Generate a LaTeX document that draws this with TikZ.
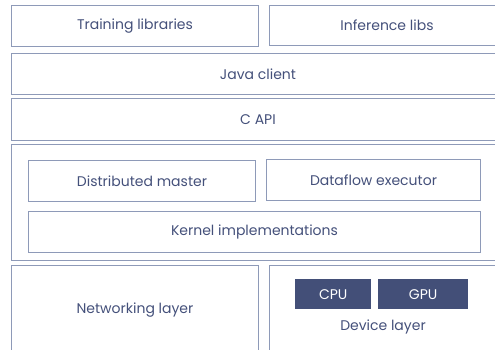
\documentclass[tikz,border=0pt]{standalone}
\usepackage{fontspec}
\setmainfont{Poppins}

\definecolor{layertext}{HTML}{44507A}
\definecolor{layerline}{HTML}{8E9AB8}
\definecolor{chipfill}{HTML}{434F78}

\tikzset{
  layer/.style={draw=layerline, line width=1pt, inner sep=0pt, anchor=north west,
    text=layertext, font=\fontsize{14}{16}\selectfont},
  chip/.style={fill=chipfill, inner sep=0pt, anchor=north west,
    text=white, font=\fontsize{14}{16}\selectfont},
}

\begin{document}
\begin{tikzpicture}[x=1pt, y=-1pt]
        \useasboundingbox (0,0) rectangle (495,350);
        \clip (0,0) rectangle (495,350);

        % Top row: libraries
        \node[layer, minimum width=247pt, minimum height=41pt] (train) at (11,5) {Training libraries};
        \node[layer, minimum width=235pt, minimum height=40pt] (infer) at (269,5) {Inference libs};

        % Client and API
        \node[layer, minimum width=493pt, minimum height=41pt] (java) at (11,53) {Java client};
        \node[layer, minimum width=493pt, minimum height=42pt] (capi) at (11,98) {C API};

        % Core runtime
        \node[layer, minimum width=493pt, minimum height=116pt] (core) at (11,144) {};
        \node[layer, minimum width=227pt, minimum height=41pt] (master) at (28,160) {Distributed master};
        \node[layer, minimum width=214pt, minimum height=41pt] (exec) at (266,159) {Dataflow executor};
        \node[layer, minimum width=452pt, minimum height=41pt] (kernel) at (28,211) {Kernel implementations};

        % Bottom row
        \node[layer, minimum width=247pt, minimum height=90pt] (net) at (11,265) {Networking layer};
        \node[layer, minimum width=235pt, minimum height=90pt] (dev) at (269,265) {};
        \node[chip, minimum width=76pt, minimum height=30pt] (cpu) at (295,279) {CPU};
        \node[chip, minimum width=90pt, minimum height=30pt] (gpu) at (378,279) {GPU};
        \node[text=layertext, font=\fontsize{14}{16}\selectfont] (devlabel) at (383,327) {Device layer};
\end{tikzpicture}
\end{document}
